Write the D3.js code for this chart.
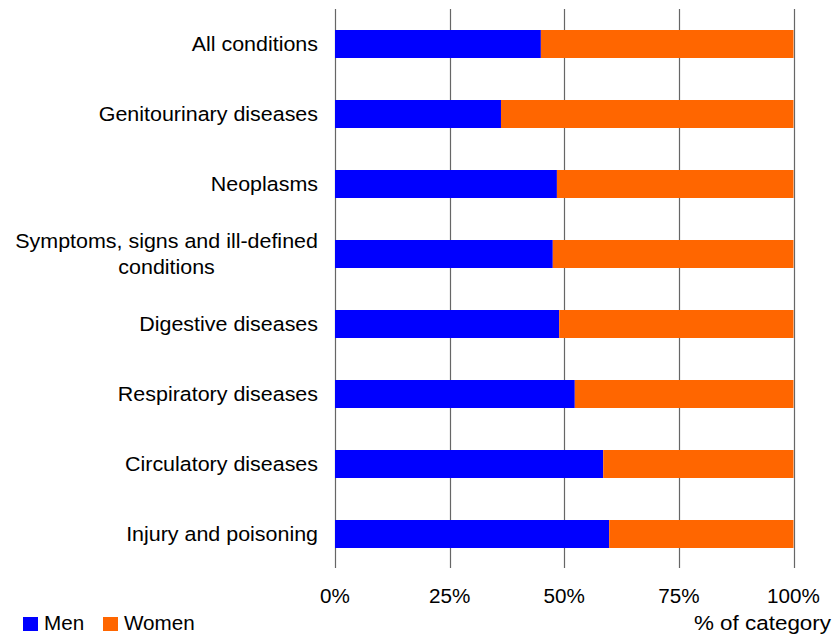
<!DOCTYPE html>
<html>
<head>
<meta charset="utf-8">
<script src="https://cdn.jsdelivr.net/npm/d3@7/dist/d3.min.js"></script>
<style>
  html, body { margin: 0; padding: 0; background: #fff; }
  svg { display: block; }
  text { font-family: "Liberation Sans", Arial, sans-serif; fill: #000; }
</style>
</head>
<body>
<svg id="chart" width="832" height="635"></svg>
<script>
// ---- data ----
const categories = [
  "All conditions",
  "Genitourinary diseases",
  "Neoplasms",
  "Symptoms, signs and ill-defined conditions",
  "Digestive diseases",
  "Respiratory diseases",
  "Circulatory diseases",
  "Injury and poisoning"
];
const menShare = [44.9, 36.2, 48.4, 47.5, 48.9, 52.3, 58.5, 59.8];
const womenShare = menShare.map(v => 100 - v);
const seriesNames = ["Men", "Women"];
const seriesColors = ["#0000FF", "#FF6600"];
const tickValues = [0, 25, 50, 75, 100];
const tickLabels = ["0%", "25%", "50%", "75%", "100%"];
const axisTitle = "% of category";

// ---- layout ----
const svg = d3.select("#chart");
const plotLeft = 335, plotRight = 793.5, plotTop = 9, plotBottom = 569;
const FS = 19.5, SX = 1.1, SX2 = 1.06, SX3 = 1.15;

const x = d3.scaleLinear().domain([0, 100]).range([plotLeft, plotRight]);
const y = d3.scaleBand().domain(categories).range([plotTop, plotBottom])
  .paddingInner(0.6).paddingOuter(0.3);

const rows = categories.map((c, i) => ({ cat: c, vals: [menShare[i], womenShare[i]] }));
const stack = d3.stack().keys([0, 1]).value((d, k) => d.vals[k]);
const layers = stack(rows);

// gridlines
svg.append("g").selectAll("line").data(tickValues).join("line")
  .attr("x1", d => Math.round(x(d)) + 0.5).attr("x2", d => Math.round(x(d)) + 0.5)
  .attr("y1", plotTop).attr("y2", plotBottom - 1)
  .attr("stroke", "#666").attr("stroke-width", 1.2);

// bars
svg.append("g").selectAll("g").data(layers).join("g")
  .attr("fill", (d, i) => seriesColors[i])
  .selectAll("rect").data(d => d).join("rect")
  .attr("x", d => x(d[0]))
  .attr("width", d => x(d[1]) - x(d[0]))
  .attr("y", d => y(d.data.cat))
  .attr("height", y.bandwidth());

// helper to draw horizontally stretched text
function stretchedText(parent, tx, ty, str, anchor, sx) {
  const g = parent.append("g").attr("transform", `translate(${tx},${ty}) scale(${sx},1)`);
  return g.append("text").attr("x", 0).attr("y", 0)
    .attr("text-anchor", anchor).attr("font-size", FS).text(str);
}

// category labels (wrapped)
const labelRight = 318, maxLabelW = 320;
const labG = svg.append("g");
categories.forEach(cat => {
  const words = cat.split(" ");
  const probe = labG.append("text").attr("font-size", FS);
  const lines = [];
  let cur = [];
  words.forEach(w => {
    const test = cur.concat([w]).join(" ");
    probe.text(test);
    if (probe.node().getComputedTextLength() * SX > maxLabelW && cur.length) {
      lines.push(cur.join(" "));
      cur = [w];
    } else cur.push(w);
  });
  if (cur.length) lines.push(cur.join(" "));
  const widths = lines.map(l => { probe.text(l); return probe.node().getComputedTextLength() * SX; });
  probe.remove();
  const blockW = d3.max(widths);
  const cy = y(cat) + y.bandwidth() / 2;
  const lh = 26;
  lines.forEach((l, i) => {
    const by = cy + 6.5 + (i - (lines.length - 1) / 2) * lh;
    if (lines.length === 1) stretchedText(labG, labelRight, by, l, "end", SX);
    else stretchedText(labG, labelRight - blockW / 2, by, l, "middle", SX);
  });
});

// x tick labels
const tickG = svg.append("g");
tickValues.forEach((v, i) => stretchedText(tickG, x(v), 603, tickLabels[i], "middle", SX2));

// axis title
stretchedText(svg, 831, 629.5, axisTitle, "end", SX3);

// legend
const legend = [
  { sx: 23, tx: 44 },
  { sx: 103, tx: 124 }
];
seriesNames.forEach((n, i) => {
  svg.append("rect").attr("x", legend[i].sx).attr("y", 617)
    .attr("width", 15).attr("height", 14).attr("fill", seriesColors[i]);
  stretchedText(svg, legend[i].tx, 629.5, n, "start", SX2);
});
</script>
</body>
</html>
